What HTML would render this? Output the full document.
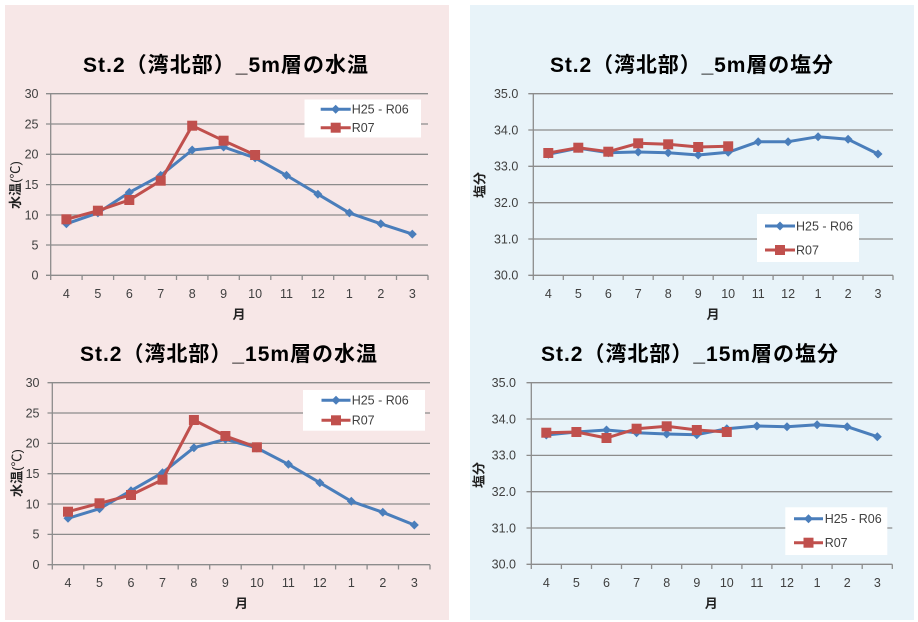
<!DOCTYPE html>
<html><head><meta charset="utf-8"><style>
html,body{margin:0;padding:0;background:#fff;}
svg{display:block;}
text{font-family:"Liberation Sans","Noto Sans CJK JP",sans-serif;}
</style></head><body>
<svg width="918" height="622" viewBox="0 0 918 622" xmlns="http://www.w3.org/2000/svg">
<rect x="0" y="0" width="918" height="622" fill="#ffffff"/>
<rect x="5" y="5" width="444" height="615" fill="#f7e7e7"/>
<rect x="470" y="5" width="444" height="615" fill="#e8f3f9"/>

<!-- ============ TOP LEFT ============ -->
<g>
<text x="225.5" y="72" font-size="21" font-weight="bold" text-anchor="middle" fill="#000" textLength="285">St.2（湾北部）_5m層の水温</text>
<g stroke="#8c8c8c" stroke-width="1.3">
<line x1="46" y1="93.7" x2="428" y2="93.7"/>
<line x1="46" y1="124" x2="428" y2="124"/>
<line x1="46" y1="154.3" x2="428" y2="154.3"/>
<line x1="46" y1="184.6" x2="428" y2="184.6"/>
<line x1="46" y1="215" x2="428" y2="215"/>
<line x1="46" y1="245" x2="428" y2="245"/>
<line x1="46" y1="275.3" x2="428" y2="275.3"/>
<line x1="50.7" y1="93.7" x2="50.7" y2="275.3"/>
<line x1="50.7" y1="275.3" x2="50.7" y2="280"/><line x1="82.1" y1="275.3" x2="82.1" y2="280"/><line x1="113.6" y1="275.3" x2="113.6" y2="280"/><line x1="145" y1="275.3" x2="145" y2="280"/><line x1="176.5" y1="275.3" x2="176.5" y2="280"/><line x1="207.9" y1="275.3" x2="207.9" y2="280"/><line x1="239.3" y1="275.3" x2="239.3" y2="280"/><line x1="270.8" y1="275.3" x2="270.8" y2="280"/><line x1="302.2" y1="275.3" x2="302.2" y2="280"/><line x1="333.7" y1="275.3" x2="333.7" y2="280"/><line x1="365.1" y1="275.3" x2="365.1" y2="280"/><line x1="396.5" y1="275.3" x2="396.5" y2="280"/><line x1="428" y1="275.3" x2="428" y2="280"/>
</g>
<g font-size="12.5" fill="#404040" text-anchor="end">
<text x="38.5" y="98">30</text><text x="38.5" y="128.3">25</text><text x="38.5" y="158.6">20</text><text x="38.5" y="188.9">15</text><text x="38.5" y="219.3">10</text><text x="38.5" y="249.3">5</text><text x="38.5" y="279.6">0</text>
</g>
<g font-size="12.5" fill="#404040" text-anchor="middle">
<text x="66.4" y="298">4</text><text x="97.9" y="298">5</text><text x="129.3" y="298">6</text><text x="160.7" y="298">7</text><text x="192.2" y="298">8</text><text x="223.6" y="298">9</text><text x="255.1" y="298">10</text><text x="286.5" y="298">11</text><text x="317.9" y="298">12</text><text x="349.4" y="298">1</text><text x="380.8" y="298">2</text><text x="412.3" y="298">3</text>
<text x="239" y="319" font-weight="bold" fill="#222" font-size="13">月</text>
</g>
<text transform="translate(20,185) rotate(-90)" font-size="13" text-anchor="middle" fill="#222"><tspan font-weight="bold">水温</tspan>(℃)</text>
<polyline fill="none" stroke="#4a7ebb" stroke-width="3" stroke-linejoin="round" points="66.4,223.8 97.9,212.9 129.3,192.4 160.7,175.4 192.2,150 223.6,147 255.1,157.9 286.5,175.4 317.9,194.2 349.4,212.9 380.8,223.8 412.3,234.1"/>
<g fill="#4a7ebb">
<path d="M66.4,219.3l4.5,4.5l-4.5,4.5l-4.5,-4.5z"/><path d="M97.9,208.4l4.5,4.5l-4.5,4.5l-4.5,-4.5z"/><path d="M129.3,187.9l4.5,4.5l-4.5,4.5l-4.5,-4.5z"/><path d="M160.7,170.9l4.5,4.5l-4.5,4.5l-4.5,-4.5z"/><path d="M192.2,145.5l4.5,4.5l-4.5,4.5l-4.5,-4.5z"/><path d="M223.6,142.5l4.5,4.5l-4.5,4.5l-4.5,-4.5z"/><path d="M255.1,153.4l4.5,4.5l-4.5,4.5l-4.5,-4.5z"/><path d="M286.5,170.9l4.5,4.5l-4.5,4.5l-4.5,-4.5z"/><path d="M317.9,189.7l4.5,4.5l-4.5,4.5l-4.5,-4.5z"/><path d="M349.4,208.4l4.5,4.5l-4.5,4.5l-4.5,-4.5z"/><path d="M380.8,219.3l4.5,4.5l-4.5,4.5l-4.5,-4.5z"/><path d="M412.3,229.6l4.5,4.5l-4.5,4.5l-4.5,-4.5z"/>
</g>
<polyline fill="none" stroke="#c0504d" stroke-width="3" stroke-linejoin="round" points="66.4,219.3 97.9,210.7 129.3,200 160.7,180.7 192.2,125.7 223.6,140.7 255.1,155"/>
<g fill="#c0504d">
<rect x="61.4" y="214.3" width="10" height="10"/><rect x="92.9" y="205.7" width="10" height="10"/><rect x="124.3" y="195" width="10" height="10"/><rect x="155.7" y="175.7" width="10" height="10"/><rect x="187.2" y="120.7" width="10" height="10"/><rect x="218.6" y="135.7" width="10" height="10"/><rect x="250.1" y="150" width="10" height="10"/>
</g>
<rect x="304.5" y="99.5" width="116.5" height="38" fill="#ffffff"/>
<line x1="320.7" y1="109.3" x2="350.7" y2="109.3" stroke="#4a7ebb" stroke-width="3"/>
<path d="M335.7,104.8l4.5,4.5l-4.5,4.5l-4.5,-4.5z" fill="#4a7ebb"/>
<line x1="320.7" y1="127.7" x2="350.7" y2="127.7" stroke="#c0504d" stroke-width="3"/>
<rect x="330.7" y="122.7" width="10" height="10" fill="#c0504d"/>
<text x="351.7" y="113.7" font-size="12.5" fill="#404040">H25 - R06</text>
<text x="351.7" y="132.1" font-size="12.5" fill="#404040">R07</text>
</g>

<!-- ============ TOP RIGHT ============ -->
<g>
<text x="691.5" y="72" font-size="21" font-weight="bold" text-anchor="middle" fill="#000" textLength="283">St.2（湾北部）_5m層の塩分</text>
<g stroke="#8c8c8c" stroke-width="1.3">
<line x1="528.3" y1="93.7" x2="893" y2="93.7"/>
<line x1="528.3" y1="130" x2="893" y2="130"/>
<line x1="528.3" y1="166.3" x2="893" y2="166.3"/>
<line x1="528.3" y1="202.7" x2="893" y2="202.7"/>
<line x1="528.3" y1="239" x2="893" y2="239"/>
<line x1="528.3" y1="275.3" x2="893" y2="275.3"/>
<line x1="533.3" y1="93.7" x2="533.3" y2="275.3"/>
<line x1="533.3" y1="275.3" x2="533.3" y2="280"/><line x1="563.3" y1="275.3" x2="563.3" y2="280"/><line x1="593.3" y1="275.3" x2="593.3" y2="280"/><line x1="623.2" y1="275.3" x2="623.2" y2="280"/><line x1="653.2" y1="275.3" x2="653.2" y2="280"/><line x1="683.2" y1="275.3" x2="683.2" y2="280"/><line x1="713.2" y1="275.3" x2="713.2" y2="280"/><line x1="743.1" y1="275.3" x2="743.1" y2="280"/><line x1="773.1" y1="275.3" x2="773.1" y2="280"/><line x1="803.1" y1="275.3" x2="803.1" y2="280"/><line x1="833.1" y1="275.3" x2="833.1" y2="280"/><line x1="863" y1="275.3" x2="863" y2="280"/><line x1="893" y1="275.3" x2="893" y2="280"/>
</g>
<g font-size="12.5" fill="#404040" text-anchor="end">
<text x="518.3" y="98">35.0</text><text x="518.3" y="134.3">34.0</text><text x="518.3" y="170.6">33.0</text><text x="518.3" y="207">32.0</text><text x="518.3" y="243.3">31.0</text><text x="518.3" y="279.6">30.0</text>
</g>
<g font-size="12.5" fill="#404040" text-anchor="middle">
<text x="548.3" y="298">4</text><text x="578.3" y="298">5</text><text x="608.3" y="298">6</text><text x="638.2" y="298">7</text><text x="668.2" y="298">8</text><text x="698.2" y="298">9</text><text x="728.2" y="298">10</text><text x="758.2" y="298">11</text><text x="788.1" y="298">12</text><text x="818.1" y="298">1</text><text x="848.1" y="298">2</text><text x="878" y="298">3</text>
<text x="713" y="319" font-weight="bold" fill="#222" font-size="13">月</text>
</g>
<text transform="translate(484.5,185) rotate(-90)" font-size="13" font-weight="bold" text-anchor="middle" fill="#222">塩分</text>
<polyline fill="none" stroke="#4a7ebb" stroke-width="3" stroke-linejoin="round" points="548.3,154.3 578.3,148.2 608.3,152.7 638.2,152 668.2,152.7 698.2,155 728.2,152.3 758.2,141.7 788.1,141.7 818.1,136.7 848.1,139.3 878,154"/>
<g fill="#4a7ebb">
<path d="M548.3,149.8l4.5,4.5l-4.5,4.5l-4.5,-4.5z"/><path d="M578.3,143.7l4.5,4.5l-4.5,4.5l-4.5,-4.5z"/><path d="M608.3,148.2l4.5,4.5l-4.5,4.5l-4.5,-4.5z"/><path d="M638.2,147.5l4.5,4.5l-4.5,4.5l-4.5,-4.5z"/><path d="M668.2,148.2l4.5,4.5l-4.5,4.5l-4.5,-4.5z"/><path d="M698.2,150.5l4.5,4.5l-4.5,4.5l-4.5,-4.5z"/><path d="M728.2,147.8l4.5,4.5l-4.5,4.5l-4.5,-4.5z"/><path d="M758.2,137.2l4.5,4.5l-4.5,4.5l-4.5,-4.5z"/><path d="M788.1,137.2l4.5,4.5l-4.5,4.5l-4.5,-4.5z"/><path d="M818.1,132.2l4.5,4.5l-4.5,4.5l-4.5,-4.5z"/><path d="M848.1,134.8l4.5,4.5l-4.5,4.5l-4.5,-4.5z"/><path d="M878,149.5l4.5,4.5l-4.5,4.5l-4.5,-4.5z"/>
</g>
<polyline fill="none" stroke="#c0504d" stroke-width="3" stroke-linejoin="round" points="548.3,153 578.3,147.7 608.3,151.7 638.2,143.3 668.2,144.3 698.2,147 728.2,146.3"/>
<g fill="#c0504d">
<rect x="543.3" y="148" width="10" height="10"/><rect x="573.3" y="142.7" width="10" height="10"/><rect x="603.3" y="146.7" width="10" height="10"/><rect x="633.2" y="138.3" width="10" height="10"/><rect x="663.2" y="139.3" width="10" height="10"/><rect x="693.2" y="142" width="10" height="10"/><rect x="723.2" y="141.3" width="10" height="10"/>
</g>
<rect x="757" y="214" width="102" height="48" fill="#ffffff"/>
<line x1="765" y1="226" x2="795" y2="226" stroke="#4a7ebb" stroke-width="3"/>
<path d="M780,221.5l4.5,4.5l-4.5,4.5l-4.5,-4.5z" fill="#4a7ebb"/>
<line x1="765" y1="250" x2="795" y2="250" stroke="#c0504d" stroke-width="3"/>
<rect x="775" y="245" width="10" height="10" fill="#c0504d"/>
<text x="796" y="230.4" font-size="12.5" fill="#404040">H25 - R06</text>
<text x="796" y="254.4" font-size="12.5" fill="#404040">R07</text>
</g>

<!-- ============ BOTTOM LEFT ============ -->
<g>
<text x="228.5" y="361" font-size="21" font-weight="bold" text-anchor="middle" fill="#000" textLength="297">St.2（湾北部）_15m層の水温</text>
<g stroke="#8c8c8c" stroke-width="1.3">
<line x1="47.5" y1="382.7" x2="430" y2="382.7"/>
<line x1="47.5" y1="413" x2="430" y2="413"/>
<line x1="47.5" y1="443.4" x2="430" y2="443.4"/>
<line x1="47.5" y1="473.7" x2="430" y2="473.7"/>
<line x1="47.5" y1="504" x2="430" y2="504"/>
<line x1="47.5" y1="534.4" x2="430" y2="534.4"/>
<line x1="47.5" y1="564.7" x2="430" y2="564.7"/>
<line x1="52.3" y1="382.7" x2="52.3" y2="564.7"/>
<line x1="52.3" y1="564.7" x2="52.3" y2="569.5"/><line x1="83.8" y1="564.7" x2="83.8" y2="569.5"/><line x1="115.3" y1="564.7" x2="115.3" y2="569.5"/><line x1="146.7" y1="564.7" x2="146.7" y2="569.5"/><line x1="178.2" y1="564.7" x2="178.2" y2="569.5"/><line x1="209.7" y1="564.7" x2="209.7" y2="569.5"/><line x1="241.2" y1="564.7" x2="241.2" y2="569.5"/><line x1="272.6" y1="564.7" x2="272.6" y2="569.5"/><line x1="304.1" y1="564.7" x2="304.1" y2="569.5"/><line x1="335.6" y1="564.7" x2="335.6" y2="569.5"/><line x1="367.1" y1="564.7" x2="367.1" y2="569.5"/><line x1="398.5" y1="564.7" x2="398.5" y2="569.5"/><line x1="430" y1="564.7" x2="430" y2="569.5"/>
</g>
<g font-size="12.5" fill="#404040" text-anchor="end">
<text x="39.5" y="387">30</text><text x="39.5" y="417.3">25</text><text x="39.5" y="447.7">20</text><text x="39.5" y="478">15</text><text x="39.5" y="508.3">10</text><text x="39.5" y="538.7">5</text><text x="39.5" y="569">0</text>
</g>
<g font-size="12.5" fill="#404040" text-anchor="middle">
<text x="68" y="587">4</text><text x="99.5" y="587">5</text><text x="131" y="587">6</text><text x="162.5" y="587">7</text><text x="193.9" y="587">8</text><text x="225.4" y="587">9</text><text x="256.9" y="587">10</text><text x="288.4" y="587">11</text><text x="319.8" y="587">12</text><text x="351.3" y="587">1</text><text x="382.8" y="587">2</text><text x="414.3" y="587">3</text>
<text x="241.5" y="608" font-weight="bold" fill="#222" font-size="13">月</text>
</g>
<text transform="translate(21.5,473) rotate(-90)" font-size="13" text-anchor="middle" fill="#222"><tspan font-weight="bold">水温</tspan>(℃)</text>
<polyline fill="none" stroke="#4a7ebb" stroke-width="3" stroke-linejoin="round" points="68,518.3 99.5,508.7 131,490.7 162.5,472.7 193.9,447.7 225.4,439.3 256.9,448 288.4,464.3 319.8,482.7 351.3,501.3 382.8,512.3 414.3,525"/>
<g fill="#4a7ebb">
<path d="M68,513.8l4.5,4.5l-4.5,4.5l-4.5,-4.5z"/><path d="M99.5,504.2l4.5,4.5l-4.5,4.5l-4.5,-4.5z"/><path d="M131,486.2l4.5,4.5l-4.5,4.5l-4.5,-4.5z"/><path d="M162.5,468.2l4.5,4.5l-4.5,4.5l-4.5,-4.5z"/><path d="M193.9,443.2l4.5,4.5l-4.5,4.5l-4.5,-4.5z"/><path d="M225.4,434.8l4.5,4.5l-4.5,4.5l-4.5,-4.5z"/><path d="M256.9,443.5l4.5,4.5l-4.5,4.5l-4.5,-4.5z"/><path d="M288.4,459.8l4.5,4.5l-4.5,4.5l-4.5,-4.5z"/><path d="M319.8,478.2l4.5,4.5l-4.5,4.5l-4.5,-4.5z"/><path d="M351.3,496.8l4.5,4.5l-4.5,4.5l-4.5,-4.5z"/><path d="M382.8,507.8l4.5,4.5l-4.5,4.5l-4.5,-4.5z"/><path d="M414.3,520.5l4.5,4.5l-4.5,4.5l-4.5,-4.5z"/>
</g>
<polyline fill="none" stroke="#c0504d" stroke-width="3" stroke-linejoin="round" points="68,511.7 99.5,503.3 131,495 162.5,479.7 193.9,420 225.4,436 256.9,447.3"/>
<g fill="#c0504d">
<rect x="63" y="506.7" width="10" height="10"/><rect x="94.5" y="498.3" width="10" height="10"/><rect x="126" y="490" width="10" height="10"/><rect x="157.5" y="474.7" width="10" height="10"/><rect x="188.9" y="415" width="10" height="10"/><rect x="220.4" y="431" width="10" height="10"/><rect x="251.9" y="442.3" width="10" height="10"/>
</g>
<rect x="303" y="390" width="122" height="40.7" fill="#ffffff"/>
<line x1="321.5" y1="400.3" x2="350.5" y2="400.3" stroke="#4a7ebb" stroke-width="3"/>
<path d="M336,395.8l4.5,4.5l-4.5,4.5l-4.5,-4.5z" fill="#4a7ebb"/>
<line x1="321.5" y1="420.3" x2="350.5" y2="420.3" stroke="#c0504d" stroke-width="3"/>
<rect x="331" y="415.3" width="10" height="10" fill="#c0504d"/>
<text x="351.7" y="404.7" font-size="12.5" fill="#404040">H25 - R06</text>
<text x="351.7" y="424.7" font-size="12.5" fill="#404040">R07</text>
</g>

<!-- ============ BOTTOM RIGHT ============ -->
<g>
<text x="689.5" y="361" font-size="21" font-weight="bold" text-anchor="middle" fill="#000" textLength="297">St.2（湾北部）_15m層の塩分</text>
<g stroke="#8c8c8c" stroke-width="1.3">
<line x1="526.5" y1="382.7" x2="892.3" y2="382.7"/>
<line x1="526.5" y1="419" x2="892.3" y2="419"/>
<line x1="526.5" y1="455.4" x2="892.3" y2="455.4"/>
<line x1="526.5" y1="491.7" x2="892.3" y2="491.7"/>
<line x1="526.5" y1="528" x2="892.3" y2="528"/>
<line x1="526.5" y1="564.3" x2="892.3" y2="564.3"/>
<line x1="531.3" y1="382.7" x2="531.3" y2="564.3"/>
<line x1="531.3" y1="564.3" x2="531.3" y2="569"/><line x1="561.4" y1="564.3" x2="561.4" y2="569"/><line x1="591.5" y1="564.3" x2="591.5" y2="569"/><line x1="621.5" y1="564.3" x2="621.5" y2="569"/><line x1="651.6" y1="564.3" x2="651.6" y2="569"/><line x1="681.7" y1="564.3" x2="681.7" y2="569"/><line x1="711.8" y1="564.3" x2="711.8" y2="569"/><line x1="741.9" y1="564.3" x2="741.9" y2="569"/><line x1="771.9" y1="564.3" x2="771.9" y2="569"/><line x1="802" y1="564.3" x2="802" y2="569"/><line x1="832.1" y1="564.3" x2="832.1" y2="569"/><line x1="862.2" y1="564.3" x2="862.2" y2="569"/><line x1="892.3" y1="564.3" x2="892.3" y2="569"/>
</g>
<g font-size="12.5" fill="#404040" text-anchor="end">
<text x="516" y="387">35.0</text><text x="516" y="423.3">34.0</text><text x="516" y="459.7">33.0</text><text x="516" y="496">32.0</text><text x="516" y="532.3">31.0</text><text x="516" y="568.6">30.0</text>
</g>
<g font-size="12.5" fill="#404040" text-anchor="middle">
<text x="546.3" y="587">4</text><text x="576.4" y="587">5</text><text x="606.5" y="587">6</text><text x="636.6" y="587">7</text><text x="666.7" y="587">8</text><text x="696.8" y="587">9</text><text x="726.8" y="587">10</text><text x="756.9" y="587">11</text><text x="787" y="587">12</text><text x="817.1" y="587">1</text><text x="847.2" y="587">2</text><text x="877.3" y="587">3</text>
<text x="711.3" y="608" font-weight="bold" fill="#222" font-size="13">月</text>
</g>
<text transform="translate(483.5,475) rotate(-90)" font-size="13" font-weight="bold" text-anchor="middle" fill="#222">塩分</text>
<polyline fill="none" stroke="#4a7ebb" stroke-width="3" stroke-linejoin="round" points="546.3,435 576.4,432 606.5,430 636.6,432.7 666.7,434 696.8,434.7 726.8,428.7 756.9,426 787,426.7 817.1,424.7 847.2,426.7 877.3,436.7"/>
<g fill="#4a7ebb">
<path d="M546.3,430.5l4.5,4.5l-4.5,4.5l-4.5,-4.5z"/><path d="M576.4,427.5l4.5,4.5l-4.5,4.5l-4.5,-4.5z"/><path d="M606.5,425.5l4.5,4.5l-4.5,4.5l-4.5,-4.5z"/><path d="M636.6,428.2l4.5,4.5l-4.5,4.5l-4.5,-4.5z"/><path d="M666.7,429.5l4.5,4.5l-4.5,4.5l-4.5,-4.5z"/><path d="M696.8,430.2l4.5,4.5l-4.5,4.5l-4.5,-4.5z"/><path d="M726.8,424.2l4.5,4.5l-4.5,4.5l-4.5,-4.5z"/><path d="M756.9,421.5l4.5,4.5l-4.5,4.5l-4.5,-4.5z"/><path d="M787,422.2l4.5,4.5l-4.5,4.5l-4.5,-4.5z"/><path d="M817.1,420.2l4.5,4.5l-4.5,4.5l-4.5,-4.5z"/><path d="M847.2,422.2l4.5,4.5l-4.5,4.5l-4.5,-4.5z"/><path d="M877.3,432.2l4.5,4.5l-4.5,4.5l-4.5,-4.5z"/>
</g>
<polyline fill="none" stroke="#c0504d" stroke-width="3" stroke-linejoin="round" points="546.3,432.7 576.4,432 606.5,438 636.6,428.7 666.7,426.3 696.8,430 726.8,432"/>
<g fill="#c0504d">
<rect x="541.3" y="427.7" width="10" height="10"/><rect x="571.4" y="427" width="10" height="10"/><rect x="601.5" y="433" width="10" height="10"/><rect x="631.6" y="423.7" width="10" height="10"/><rect x="661.7" y="421.3" width="10" height="10"/><rect x="691.8" y="425" width="10" height="10"/><rect x="721.8" y="427" width="10" height="10"/>
</g>
<rect x="785.3" y="507.3" width="102" height="47.7" fill="#ffffff"/>
<line x1="794" y1="518.7" x2="823" y2="518.7" stroke="#4a7ebb" stroke-width="3"/>
<path d="M808.5,514.2l4.5,4.5l-4.5,4.5l-4.5,-4.5z" fill="#4a7ebb"/>
<line x1="794" y1="542.7" x2="823" y2="542.7" stroke="#c0504d" stroke-width="3"/>
<rect x="803.5" y="537.7" width="10" height="10" fill="#c0504d"/>
<text x="824.7" y="523.1" font-size="12.5" fill="#404040">H25 - R06</text>
<text x="824.7" y="547.1" font-size="12.5" fill="#404040">R07</text>
</g>
</svg>
</body></html>
